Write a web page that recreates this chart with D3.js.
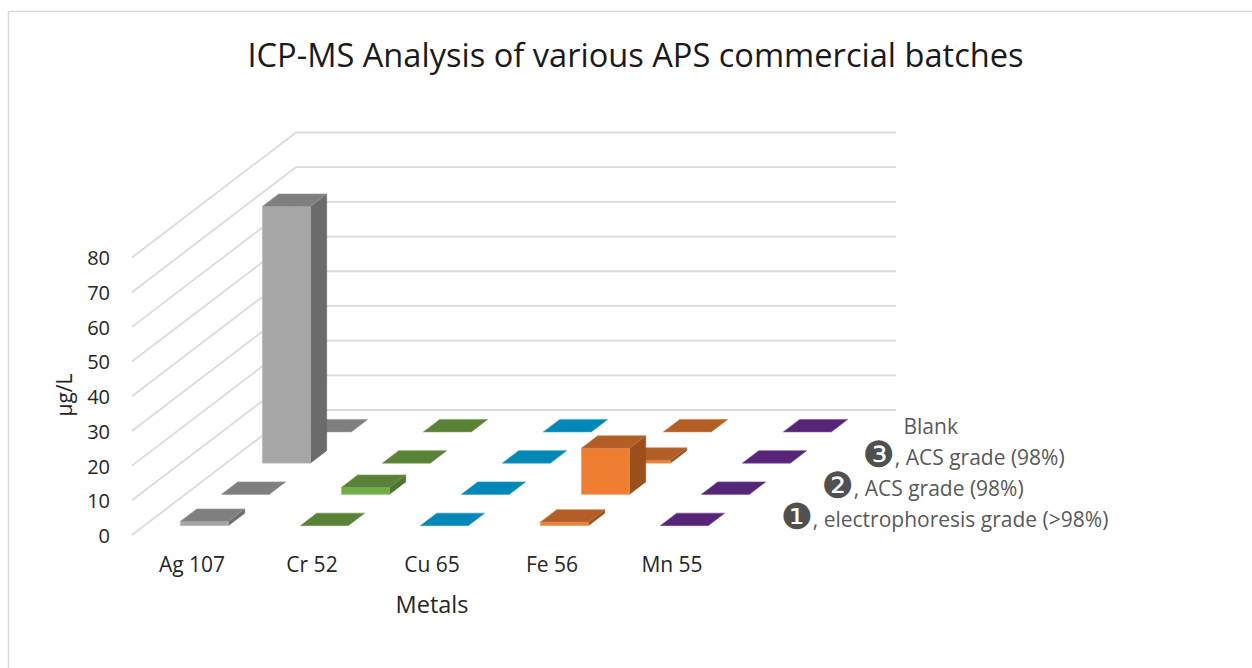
<!DOCTYPE html>
<html>
<head>
<meta charset="utf-8">
<script src="https://d3js.org/d3.v7.min.js"></script>
<style>
    html, body { margin: 0; padding: 0; background: #fff; }
    svg { display: block; }
    text { font-family: "Open Sans", sans-serif; }
</style>
</head>
<body>
<div id="chart"></div>
<script>
const metals = ['Ag 107', 'Cr 52', 'Cu 65', 'Fe 56', 'Mn 55'];
const seriesNames = ['grade1', 'grade2', 'grade3', 'blank'];
const legendBadges = ['\u2776', '\u2777', '\u2778', ''];
const legendLabels = [', electrophoresis grade (>98%)', ', ACS grade (98%)', ', ACS grade (98%)', 'Blank'];
const yTicks = [0, 10, 20, 30, 40, 50, 60, 70, 80];

// µg/L, one array per batch, same order as metals
const grade1Values = [1.2, 0, 0, 1, 0];
const grade2Values = [0, 2, 0, 13.3, 0];
const grade3Values = [74, 0, 0, 0.8, 0];
const blankValues = [0, 0, 0, 0, 0];
const allValues = [grade1Values, grade2Values, grade3Values, blankValues];

// one colour set per metal, the chart varies colours by point
const frontColors = ['#a5a5a5', '#70ad47', '#00a0da', '#ed7d31', '#7030a0'];
const topColors = ['#7f7f7f', '#5a8236', '#0287b6', '#b35e24', '#572578'];
const sideColors = ['#6b6b6b', '#4c7530', '#02729b', '#9a4f1d', '#4a1f66'];

const width = 1252, height = 668;
const floor = { x: 132, y: 535, dx: 164, dy: 125, w: 600 };

const svg = d3.select('#chart').append('svg')
    .attr('width', width)
    .attr('height', height);

// only the top and left edges of the chart frame are in the crop
svg.append('path')
    .attr('d', `M8.5,${height} V11.5 H${width}`)
    .attr('fill', 'none')
    .attr('stroke', '#d9d9d9')
    .attr('stroke-width', 1.5);

const xScale = d3.scaleBand()
    .domain(metals)
    .range([0, floor.w])
    .paddingInner(0.6)
    .paddingOuter(0.3);

const depthScale = d3.scaleBand()
    .domain(seriesNames)
    .range([0, 1])
    .paddingInner(0.6)
    .paddingOuter(0.3);

const yScale = d3.scaleLinear()
    .domain([0, 80])
    .range([floor.y, floor.y - 277.5]);

// oblique projection: px along the front edge, fraction of the depth, height in px
const project = (px, depth, rise) => [
    floor.x + px + depth * floor.dx,
    floor.y - depth * floor.dy - rise
];
const polygon = pts => d3.line()(pts) + 'Z';
const rise = v => floor.y - yScale(v);

// gridlines, floor edge plus back wall
const grid = svg.append('g');
yTicks.forEach(t => {
    grid.append('path')
        .attr('d', d3.line()([project(0, 0, rise(t)), project(0, 1, rise(t)), project(floor.w, 1, rise(t))]))
        .attr('fill', 'none')
        .attr('stroke', '#dadada')
        .attr('stroke-width', 1.8);
});

// back row first so the nearer bars cover it
const bars = svg.append('g');
d3.range(seriesNames.length - 1, -1, -1).forEach(s => {
    metals.forEach((metal, i) => {
        const v = allValues[s][i];
        const h = rise(v);
        const x0 = xScale(metal), x1 = x0 + xScale.bandwidth();
        const d0 = depthScale(seriesNames[s]), d1 = d0 + depthScale.bandwidth();
        const g = bars.append('g')
            .attr('stroke-width', 0.6)
            .attr('stroke-linejoin', 'round');

        if (v > 0) {
            g.append('path')
                .attr('d', polygon([project(x1, d0, 0), project(x1, d1, 0), project(x1, d1, h), project(x1, d0, h)]))
                .attr('fill', sideColors[i])
                .attr('stroke', sideColors[i]);
            g.append('path')
                .attr('d', polygon([project(x0, d0, 0), project(x1, d0, 0), project(x1, d0, h), project(x0, d0, h)]))
                .attr('fill', frontColors[i])
                .attr('stroke', d3.interpolate(frontColors[i], '#fff')(0.35));
        }
        g.append('path')
            .attr('d', polygon([project(x0, d0, h), project(x1, d0, h), project(x1, d1, h), project(x0, d1, h)]))
            .attr('fill', topColors[i])
            .attr('stroke', d3.interpolate(topColors[i], '#fff')(0.2));
    });
});

// y axis
const yAxis = svg.append('g')
    .attr('transform', 'translate(118,1)')
    .call(d3.axisLeft(yScale).tickValues(yTicks).tickSize(0).tickPadding(8));
yAxis.select('.domain').remove();
yAxis.selectAll('text')
    .attr('font-size', 20)
    .style('font-family', '"Open Sans", sans-serif')
    .attr('fill', '#262626');

// category axis
const xAxis = svg.append('g')
    .attr('transform', `translate(${floor.x},551)`)
    .call(d3.axisBottom(xScale).tickSize(0).tickPadding(6));
xAxis.select('.domain').remove();
xAxis.selectAll('text')
    .attr('font-size', 21)
    .style('font-family', '"Open Sans", sans-serif')
    .attr('fill', '#262626');

// depth axis labels act as the legend
seriesNames.forEach((name, s) => {
    const pos = project(floor.w + 28, depthScale(name) + depthScale.bandwidth() / 2, 0);
    const label = svg.append('text')
        .attr('x', pos[0])
        .attr('y', pos[1] + 8)
        .attr('font-size', 21)
        .attr('fill', '#595959');
    if (legendBadges[s]) {
        // badge glyph sits a little low, the label goes back on the baseline
        label.append('tspan')
            .style('font-family', '"DejaVu Sans"')
            .attr('font-size', 36)
            .attr('dy', 2)
            .attr('fill', '#505050')
            .text(legendBadges[s]);
        label.append('tspan').attr('dy', -2).text(legendLabels[s]);
    } else {
        label.append('tspan').text(legendLabels[s]);
    }
});

svg.append('text')
    .attr('x', 635.5)
    .attr('y', 67)
    .attr('text-anchor', 'middle')
    .attr('font-size', 32.6)
    .attr('fill', '#1a1a1a')
    .text('ICP-MS Analysis of various APS commercial batches');

svg.append('text')
    .attr('x', 432)
    .attr('y', 613)
    .attr('text-anchor', 'middle')
    .attr('font-size', 23.5)
    .attr('fill', '#262626')
    .text('Metals');

svg.append('text')
    .attr('transform', 'translate(72,395) rotate(-90)')
    .attr('text-anchor', 'middle')
    .attr('font-size', 21)
    .attr('fill', '#262626')
    .text('µg/L');
</script>
</body>
</html>
